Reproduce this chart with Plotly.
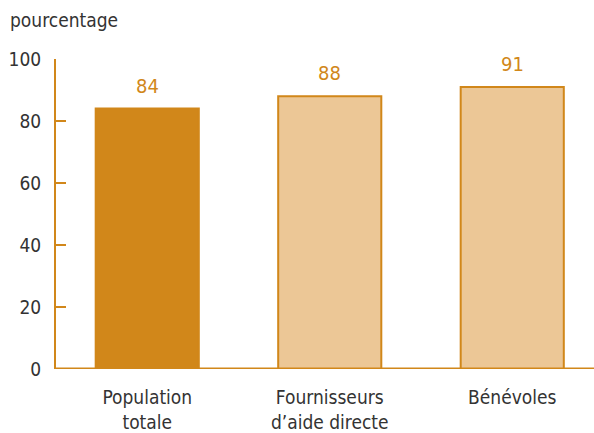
import plotly.graph_objects as go

# Share of respondents, by group
categories = ["Population<br>totale", "Fournisseurs<br>d’aide directe", "Bénévoles"]
values = [84, 88, 91]
y_ticks = [0, 20, 40, 60, 80, 100]

ORANGE = "#D1871A"
LIGHT = "#ECC796"
TEXT = "#333333"
FONT = "DejaVu Sans Condensed, Liberation Sans Narrow, sans-serif"

fig = go.Figure(
    go.Bar(
        x=[0, 1, 2],
        y=values,
        width=0.565,
        marker=dict(
            color=[ORANGE, LIGHT, LIGHT],
            line=dict(color=ORANGE, width=2),
        ),
        hoverinfo="skip",
    )
)

# value labels above the bars
for i, v in enumerate(values):
    fig.add_annotation(
        x=i, y=v, text=str(v),
        xref="x", yref="y",
        xanchor="center", yanchor="bottom",
        yshift=9, showarrow=False,
        font=dict(family=FONT, size=20, color=ORANGE),
    )

fig.update_layout(
    width=594,
    height=433,
    margin=dict(l=56, r=0, t=59, b=62),
    paper_bgcolor="white",
    plot_bgcolor="white",
    showlegend=False,
    font=dict(family=FONT, color=TEXT, size=19),
)

fig.add_annotation(
    text="pourcentage",
    xref="paper", yref="paper",
    x=(8 - 56) / 538, y=1 + (59 - 20) / 312,
    xanchor="left", yanchor="middle",
    showarrow=False,
    font=dict(family=FONT, size=19, color=TEXT),
)

fig.update_xaxes(
    range=[-0.5, 2.448],
    tickvals=[0, 1, 2],
    ticktext=categories,
    showgrid=False,
    zeroline=False,
    showline=False,
    ticks="",
    ticklabelstandoff=15,
    tickfont=dict(family=FONT, size=19, color=TEXT),
    fixedrange=True,
)

fig.update_yaxes(
    range=[0, 100],
    tickvals=y_ticks,
    showgrid=False,
    zeroline=False,
    showline=True,
    linecolor=ORANGE,
    linewidth=2,
    ticks="inside",
    ticklen=10,
    tickwidth=2,
    tickcolor=ORANGE,
    ticklabelstandoff=9,
    tickfont=dict(family=FONT, size=19, color=TEXT),
    fixedrange=True,
)

# baseline along zero
fig.add_shape(
    type="line", xref="paper", yref="y",
    x0=0, x1=1, y0=0, y1=0,
    line=dict(color=ORANGE, width=3),
    layer="above",
)

fig.write_html("out.html")
